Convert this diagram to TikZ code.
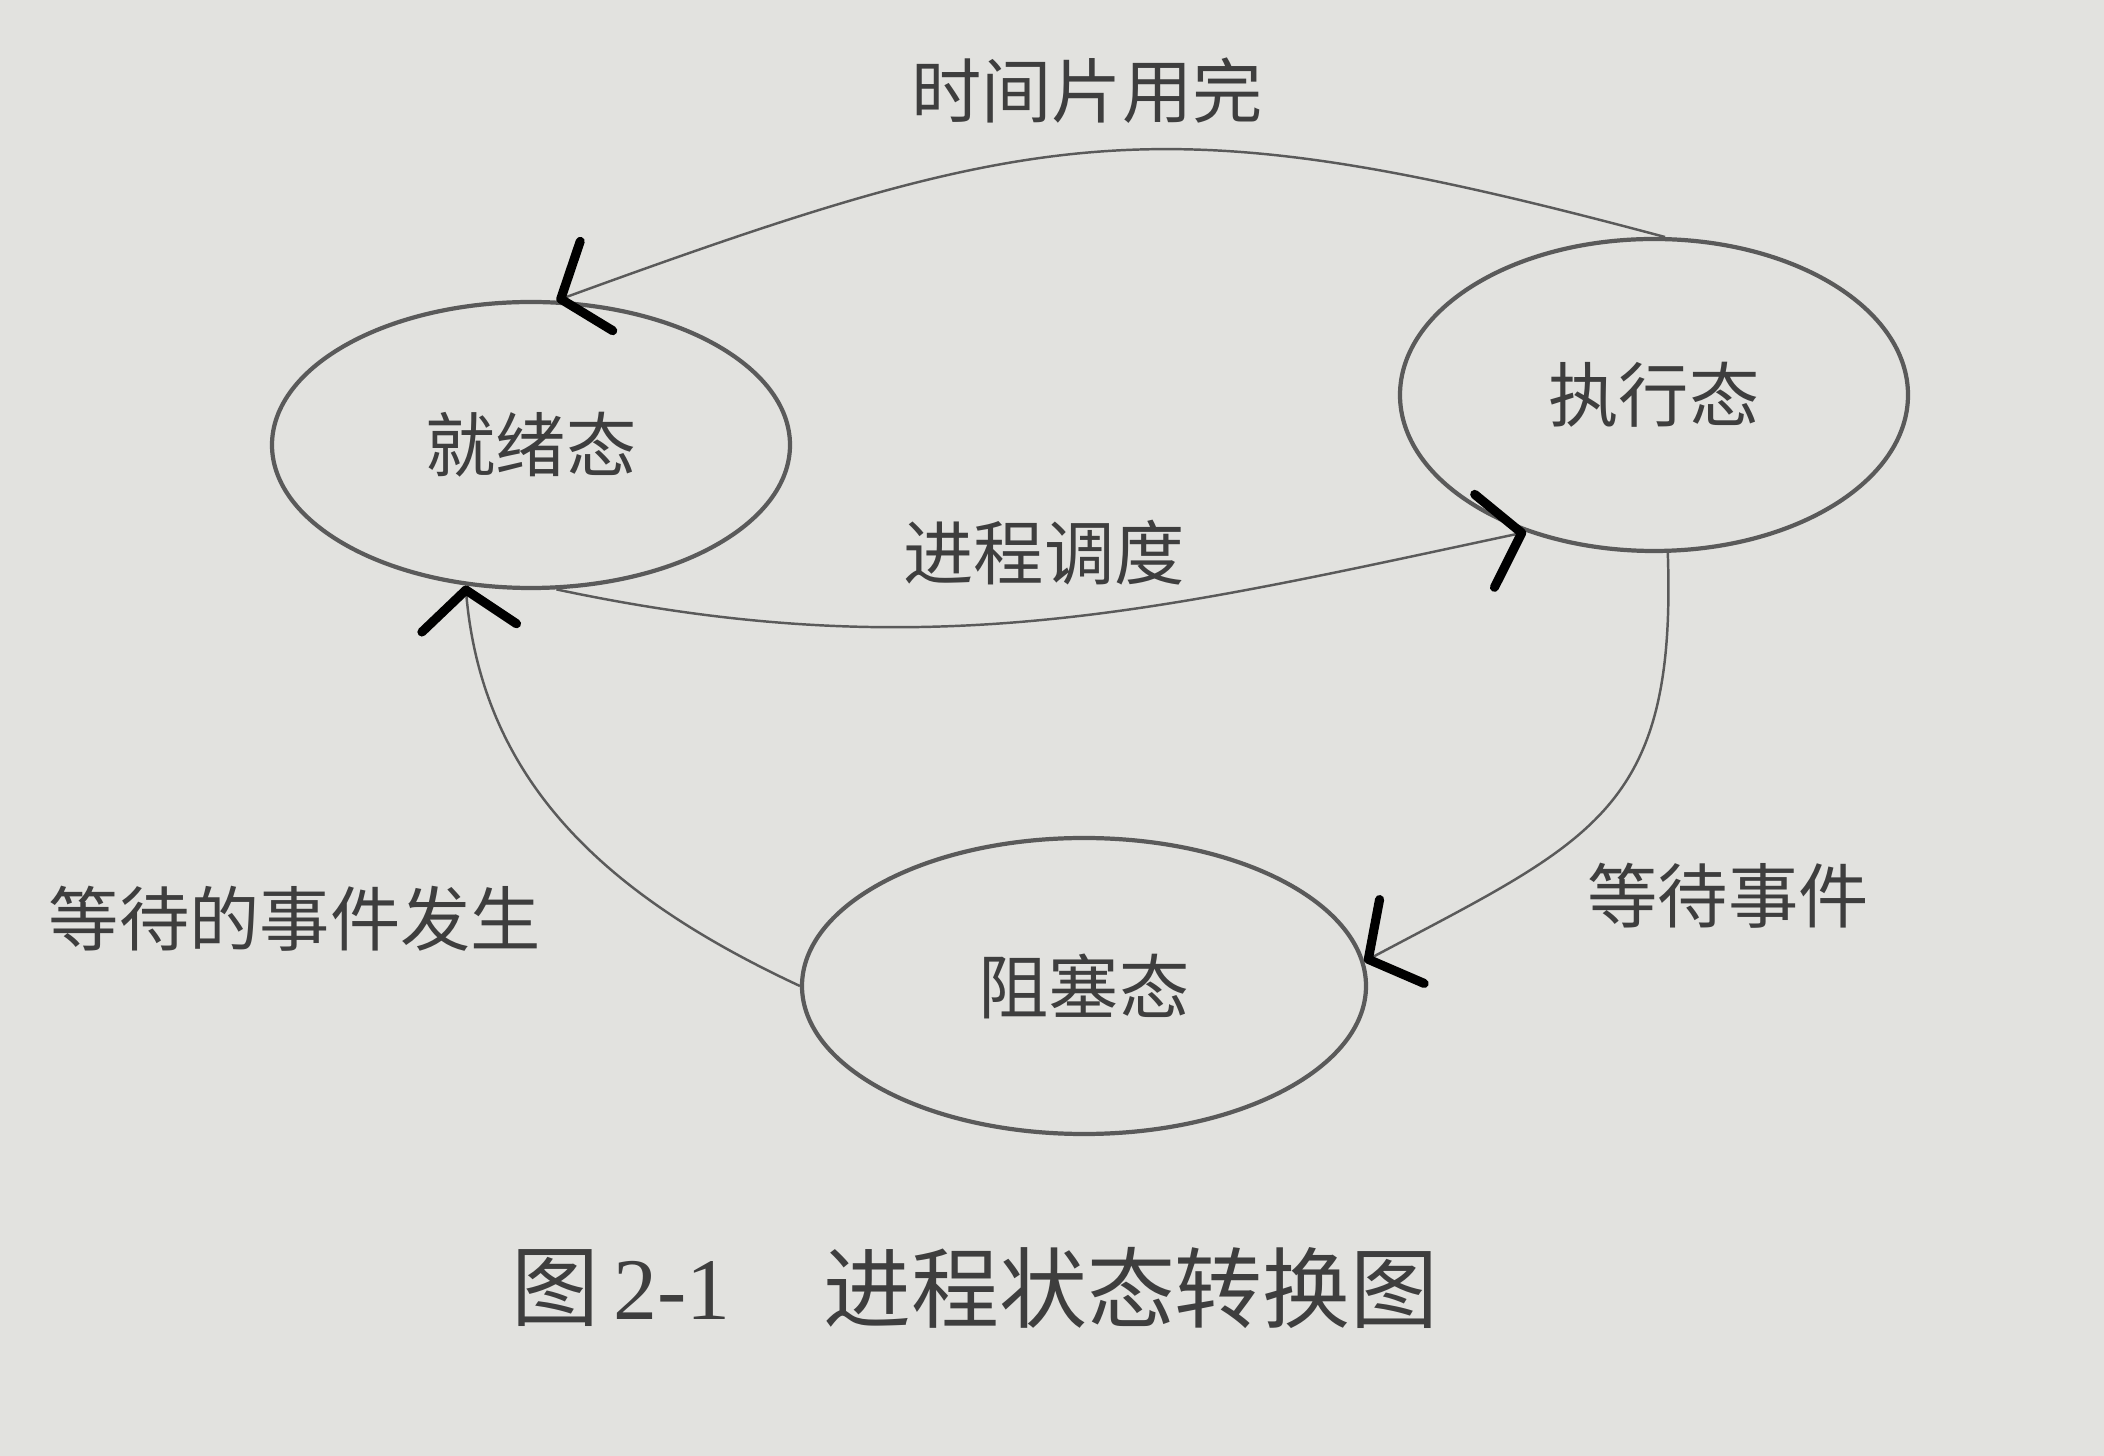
\documentclass[tikz,border=0pt]{standalone}
\usepackage{fontspec}
\setmainfont{Liberation Serif}
\newfontfamily\cjk{Noto Sans CJK SC}
\usetikzlibrary{shapes.geometric,arrows.meta}
\definecolor{paper}{RGB}{226,226,223}
\definecolor{ink}{RGB}{62,62,62}
\definecolor{pen}{RGB}{90,90,90}

\begin{document}
\begin{tikzpicture}[
  state/.style={draw=pen, line width=1.2pt, ellipse, inner sep=0pt, text=ink, font=\cjk\fontsize{20}{24}\selectfont},
  trans/.style={draw=pen, line width=0.7pt, -{Straight Barb[round, black, length=0.38cm, width=0.95cm, line width=2.6pt]}},
  lbl/.style={text=ink, font=\cjk\fontsize{20}{24}\selectfont},
  figcap/.style={text=ink, font=\fontsize{25}{30}\selectfont}
]
\fill[paper] (0,0) rectangle (21.04,-14.56);
\useasboundingbox (0,0) rectangle (21.04,-14.56);

\node[state, minimum width=5.18cm, minimum height=2.86cm] (ready) at (5.31,-4.45) {就绪态};
\node[state, minimum width=5.08cm, minimum height=3.12cm] (run) at (16.54,-3.95) {执行态};
\node[state, minimum width=5.64cm, minimum height=2.96cm] (block) at (10.84,-9.86) {阻塞态};

\path[trans] (run.86) to[out=165, in=20, looseness=1.2] (ready.80);
\path[trans] (ready.280) to[out=-12, in=192] (run.227);
\path[trans] (run.275) to[out=-88, in=28, looseness=1.3] (block.5);
\path[trans] (block.west) to[out=155, in=-85] (ready.245);

\node[lbl] (slice) at (10.87,-0.91) {时间片用完};
\node[lbl] (sched) at (10.44,-5.53) {进程调度};
\node[lbl] (wait) at (17.28,-8.96) {等待事件};
\node[lbl] (wake) at (2.95,-9.19) {等待的事件发生};

\node[figcap] (fig) at (6.21,-12.88) {{\cjk 图}\,2-1};
\node[figcap, font=\cjk\fontsize{25}{30}\selectfont] (title) at (11.31,-12.88) {进程状态转换图};
\end{tikzpicture}
\end{document}
